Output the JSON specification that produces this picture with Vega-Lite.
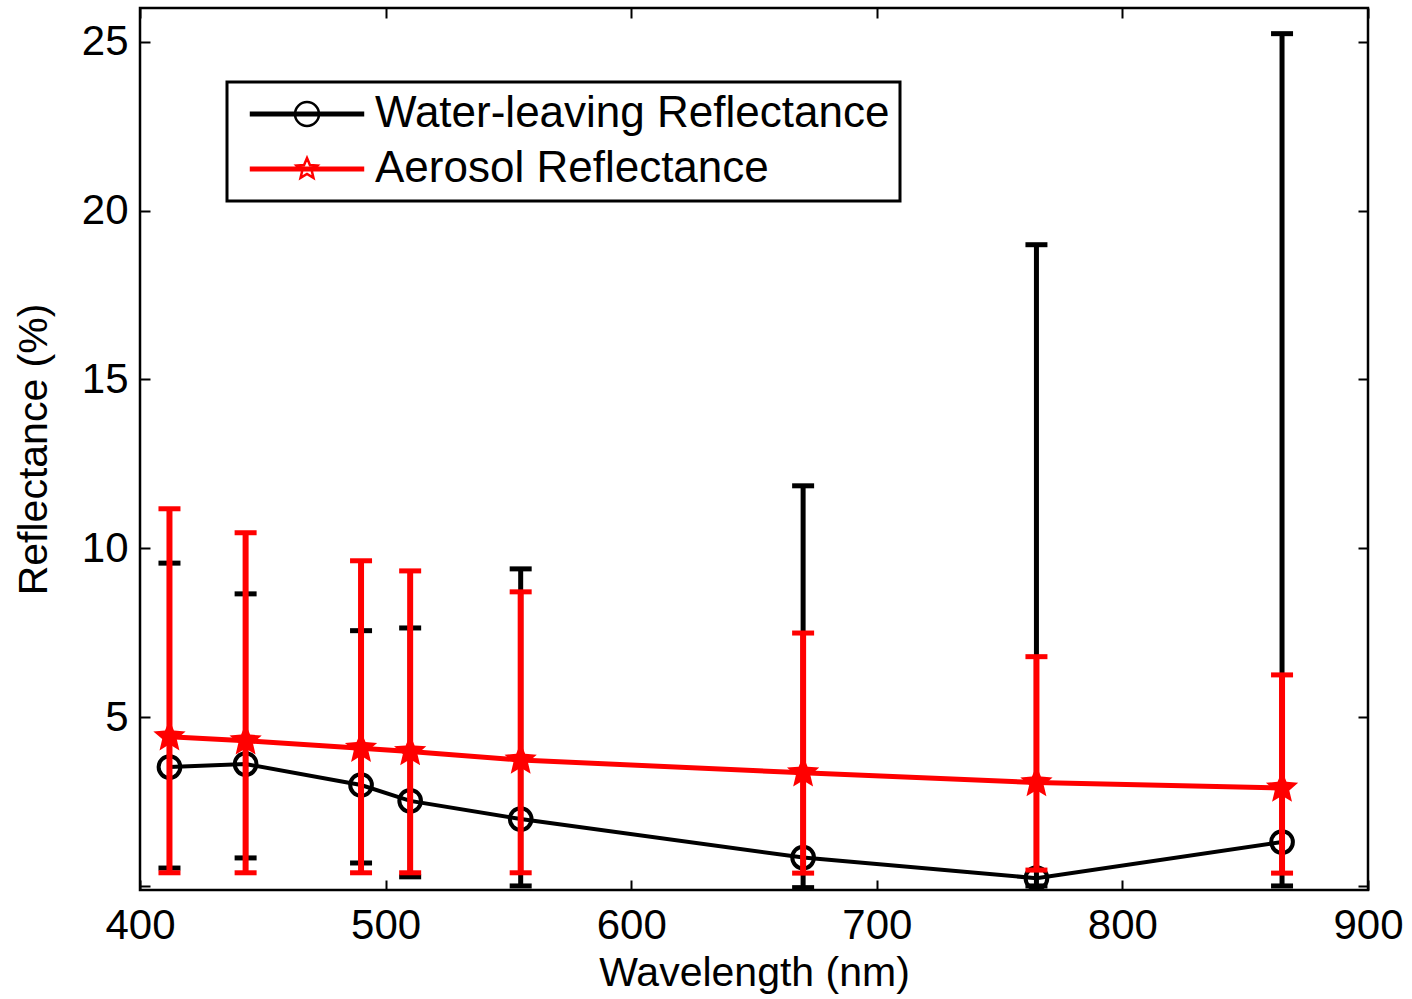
{
  "$schema": "https://vega.github.io/schema/vega-lite/v6.json",
  "autosize": {"type": "none"},
  "width": 1228,
  "height": 882,
  "padding": {"left": 140, "top": 8, "right": 44, "bottom": 109},
  "background": "white",
  "config": {
    "view": {"stroke": "black", "strokeWidth": 2.5},
    "legend": {"strokeWidth": 3},
    "axis": {
      "grid": false, "domain": false, "ticks": true,
      "tickColor": "black", "tickWidth": 2, "tickSize": -10,
      "labelFont": "Liberation Sans", "labelFontSize": 42, "labelColor": "black",
      "titleFont": "Liberation Sans", "titleFontSize": 41, "titleFontWeight": "normal", "titleColor": "black"
    }
  },
  "data": {"values": [
    {"s": "W", "wl": 412, "m": 3.52, "lo": 0.53, "hi": 9.56},
    {"s": "W", "wl": 443, "m": 3.61, "lo": 0.83, "hi": 8.65},
    {"s": "W", "wl": 490, "m": 2.99, "lo": 0.68, "hi": 7.56},
    {"s": "W", "wl": 510, "m": 2.52, "lo": 0.27, "hi": 7.64},
    {"s": "W", "wl": 555, "m": 1.98, "lo": 0.0, "hi": 9.39},
    {"s": "W", "wl": 670, "m": 0.84, "lo": -0.05, "hi": 11.85},
    {"s": "W", "wl": 765, "m": 0.23, "lo": 0.0, "hi": 18.99},
    {"s": "W", "wl": 865, "m": 1.30, "lo": 0.0, "hi": 25.24},
    {"s": "A", "wl": 412, "m": 4.42, "lo": 0.39, "hi": 11.17},
    {"s": "A", "wl": 443, "m": 4.30, "lo": 0.39, "hi": 10.46},
    {"s": "A", "wl": 490, "m": 4.08, "lo": 0.39, "hi": 9.63},
    {"s": "A", "wl": 510, "m": 3.98, "lo": 0.39, "hi": 9.33},
    {"s": "A", "wl": 555, "m": 3.73, "lo": 0.39, "hi": 8.71},
    {"s": "A", "wl": 670, "m": 3.35, "lo": 0.38, "hi": 7.49},
    {"s": "A", "wl": 765, "m": 3.06, "lo": 0.47, "hi": 6.79},
    {"s": "A", "wl": 865, "m": 2.90, "lo": 0.38, "hi": 6.25}
  ]},
  "resolve": {"axis": {"x": "independent", "y": "independent"}},
  "layer": [
    {
      "transform": [{"filter": "datum.s == 'W'"}],
      "mark": {"type": "rule", "color": "black", "strokeWidth": 5},
      "encoding": {
        "x": {"field": "wl", "type": "quantitative", "scale": {"domain": [400, 900], "nice": false},
          "axis": {"orient": "bottom", "values": [400, 500, 600, 700, 800, 900], "format": "d", "labelFlush": false, "labelPadding": 25, "title": "Wavelength (nm)", "titlePadding": 7}},
        "y": {"field": "lo", "type": "quantitative", "scale": {"domain": [-0.12, 26.0], "nice": false, "zero": false},
          "axis": {"orient": "left", "values": [0, 5, 10, 15, 20, 25], "labelExpr": "datum.value == 0 ? '' : datum.label", "labelFlush": false, "labelPadding": 22, "title": "Reflectance (%)", "titlePadding": 26}},
        "y2": {"field": "hi"}
      }
    },
    {
      "transform": [{"filter": "datum.s == 'W'"}],
      "mark": {"type": "tick", "orient": "horizontal", "color": "black", "size": 22, "thickness": 5, "opacity": 1},
      "encoding": {
        "x": {"field": "wl", "type": "quantitative", "axis": null},
        "y": {"field": "hi", "type": "quantitative", "axis": null}
      }
    },
    {
      "transform": [{"filter": "datum.s == 'W'"}],
      "mark": {"type": "tick", "orient": "horizontal", "color": "black", "size": 22, "thickness": 5, "opacity": 1},
      "encoding": {
        "x": {"field": "wl", "type": "quantitative", "axis": null},
        "y": {"field": "lo", "type": "quantitative", "axis": null}
      }
    },
    {
      "transform": [{"filter": "datum.s == 'W'"}],
      "mark": {"type": "line", "color": "black", "strokeWidth": 4},
      "encoding": {
        "x": {"field": "wl", "type": "quantitative", "axis": null},
        "y": {"field": "m", "type": "quantitative", "axis": null}
      }
    },
    {
      "transform": [{"filter": "datum.s == 'W'"}],
      "mark": {"type": "point", "shape": "circle", "filled": false, "color": "black", "strokeWidth": 4, "size": 470, "opacity": 1},
      "encoding": {
        "x": {"field": "wl", "type": "quantitative", "axis": null},
        "y": {"field": "m", "type": "quantitative", "axis": null}
      }
    },
    {
      "transform": [{"filter": "datum.s == 'A'"}],
      "mark": {"type": "rule", "color": "#ff0000", "strokeWidth": 6},
      "encoding": {
        "x": {"field": "wl", "type": "quantitative", "axis": null},
        "y": {"field": "lo", "type": "quantitative", "axis": null},
        "y2": {"field": "hi"}
      }
    },
    {
      "transform": [{"filter": "datum.s == 'A'"}],
      "mark": {"type": "tick", "orient": "horizontal", "color": "#ff0000", "size": 22, "thickness": 5, "opacity": 1},
      "encoding": {
        "x": {"field": "wl", "type": "quantitative", "axis": null},
        "y": {"field": "hi", "type": "quantitative", "axis": null}
      }
    },
    {
      "transform": [{"filter": "datum.s == 'A'"}],
      "mark": {"type": "tick", "orient": "horizontal", "color": "#ff0000", "size": 22, "thickness": 5, "opacity": 1},
      "encoding": {
        "x": {"field": "wl", "type": "quantitative", "axis": null},
        "y": {"field": "lo", "type": "quantitative", "axis": null}
      }
    },
    {
      "transform": [{"filter": "datum.s == 'A'"}],
      "mark": {"type": "line", "color": "#ff0000", "strokeWidth": 5},
      "encoding": {
        "x": {"field": "wl", "type": "quantitative", "axis": null},
        "y": {"field": "m", "type": "quantitative", "axis": null}
      }
    },
    {
      "transform": [{"filter": "datum.s == 'A'"}],
      "mark": {"type": "point", "shape": "M0,-1L0.2645,-0.364L0.951,-0.309L0.428,0.139L0.588,0.809L0,0.45L-0.588,0.809L-0.428,0.139L-0.951,-0.309L-0.2645,-0.364Z", "filled": true, "color": "#ff0000", "size": 1150, "opacity": 1},
      "encoding": {
        "x": {"field": "wl", "type": "quantitative", "axis": null},
        "y": {"field": "m", "type": "quantitative", "axis": null}
      }
    },
    {
      "transform": [{"filter": "datum.wl < 0"}],
      "mark": {"type": "point", "filled": false, "opacity": 1},
      "encoding": {
        "x": {"field": "wl", "type": "quantitative",
          "axis": {"orient": "top", "values": [400, 500, 600, 700, 800, 900], "labels": false, "title": null}},
        "y": {"field": "m", "type": "quantitative",
          "axis": {"orient": "right", "values": [0, 5, 10, 15, 20, 25], "labels": false, "title": null}},
        "color": {"field": "series", "type": "nominal",
          "scale": {"domain": ["Water-leaving Reflectance", "Aerosol Reflectance"], "range": ["black", "#ff0000"]},
          "legend": {"title": null, "orient": "none", "legendX": 87, "legendY": 74, "padding": 10, "rowPadding": 11,
            "fillColor": "white", "strokeColor": "black", "cornerRadius": 0,
            "symbolSize": 1296, "symbolStrokeWidth": 2.5, "symbolOffset": 48, "labelOffset": 46, "labelFont": "Liberation Sans", "labelFontSize": 44, "labelColor": "black", "labelLimit": 0}},
        "shape": {"field": "series", "type": "nominal",
          "scale": {"domain": ["Water-leaving Reflectance", "Aerosol Reflectance"],
            "range": ["M-3.11,-0.069L3.11,-0.069L3.11,0.069L-3.11,0.069ZM0.667,0A0.667,0.667,0,1,1,-0.667,0A0.667,0.667,0,1,1,0.667,0",
                      "M-3.11,-0.069L3.11,-0.069L3.11,0.069L-3.11,0.069ZM0,-0.61L0.161,-0.222L0.58,-0.188L0.261,0.085L0.359,0.493L0,0.274L-0.359,0.493L-0.261,0.085L-0.58,-0.188L-0.161,-0.222Z"]},
          "legend": {"title": null, "orient": "none", "legendX": 87, "legendY": 74, "padding": 10, "rowPadding": 11,
            "fillColor": "white", "strokeColor": "black", "cornerRadius": 0,
            "symbolSize": 1296, "symbolStrokeWidth": 2.5, "symbolOffset": 48, "labelOffset": 46, "labelFont": "Liberation Sans", "labelFontSize": 44, "labelColor": "black", "labelLimit": 0}}
      }
    }
  ]
}
